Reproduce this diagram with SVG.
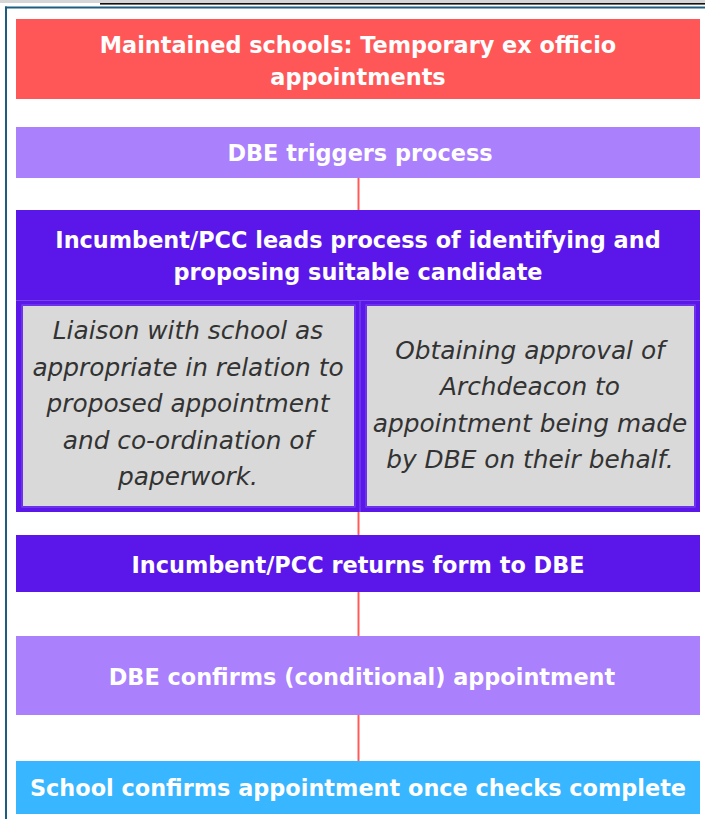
<svg xmlns="http://www.w3.org/2000/svg" width="705" height="819" viewBox="0 0 705 819">
<style>
.t{font-family:"DejaVu Sans","Liberation Sans",sans-serif;font-weight:bold;font-size:22.4px;fill:#ffffff;text-anchor:middle}
.i{font-family:"DejaVu Sans","Liberation Sans",sans-serif;font-style:italic;font-size:24.8px;fill:#333333;text-anchor:middle}
.c{stroke:#ff5a5a;stroke-width:2;fill:none}
.gray{fill:#d9d9d9}
.cell{stroke:#7a45ef;stroke-width:1.2;fill:none}
</style>
<rect x="0" y="0" width="705" height="819" fill="#ffffff"/>
<rect x="0" y="0" width="705" height="3" fill="#d6d6d6"/>
<rect x="100" y="3" width="605" height="1.6" fill="#111111"/>
<rect x="5" y="6.5" width="700" height="2" fill="#1d5e80"/>
<rect x="5" y="6.5" width="2" height="813" fill="#1d5e80"/>
<g id="connectors">
<line class="c" x1="358.5" y1="178" x2="358.5" y2="210"/>
<line class="c" x1="358.5" y1="512" x2="358.5" y2="535"/>
<line class="c" x1="358.5" y1="592" x2="358.5" y2="636"/>
<line class="c" x1="358.5" y1="715" x2="358.5" y2="761"/>
</g>
<g id="title">
<rect x="16" y="19" width="684" height="80" fill="#ff5757"/>
<text class="t" x="358" y="53">Maintained schools: Temporary ex officio</text>
<text class="t" x="358" y="85">appointments</text>
</g>
<g id="dbe-triggers">
<rect x="16" y="127" width="684" height="51" fill="#aa80fd"/>
<text class="t" x="360" y="161">DBE triggers process</text>
</g>
<g id="incumbent-leads">
<rect x="16" y="210" width="684" height="302" fill="#5b17e9"/>
<text class="t" x="358" y="248">Incumbent/PCC leads process of identifying and</text>
<text class="t" x="358" y="280">proposing suitable candidate</text>
<line class="cell" x1="16" y1="300.5" x2="700" y2="300.5"/>
<line class="cell" x1="360" y1="300" x2="360" y2="512"/>
</g>
<g id="liaison">
<rect class="gray" x="23" y="306" width="331" height="200"/>
<rect class="cell" x="22" y="305" width="333" height="202"/>
<text class="i" x="188" y="339">Liaison with school as</text>
<text class="i" x="188" y="376">appropriate in relation to</text>
<text class="i" x="188" y="412">proposed appointment</text>
<text class="i" x="188" y="449">and co-ordination of</text>
<text class="i" x="188" y="485">paperwork.</text>
</g>
<g id="archdeacon">
<rect class="gray" x="367" y="306" width="327" height="200"/>
<rect class="cell" x="366" y="305" width="329" height="202"/>
<text class="i" x="530" y="359">Obtaining approval of</text>
<text class="i" x="530" y="395">Archdeacon to</text>
<text class="i" x="530" y="432">appointment being made</text>
<text class="i" x="530" y="468">by DBE on their behalf.</text>
</g>
<g id="returns-form">
<rect x="16" y="535" width="684" height="57" fill="#5b17e9"/>
<text class="t" x="358" y="573">Incumbent/PCC returns form to DBE</text>
</g>
<g id="dbe-confirms">
<rect x="16" y="636" width="684" height="79" fill="#aa80fd"/>
<text class="t" x="362" y="685">DBE confirms (conditional) appointment</text>
</g>
<g id="school-confirms">
<rect x="16" y="761" width="684" height="53" fill="#38b6ff"/>
<text class="t" x="358" y="796">School confirms appointment once checks complete</text>
</g>
</svg>
